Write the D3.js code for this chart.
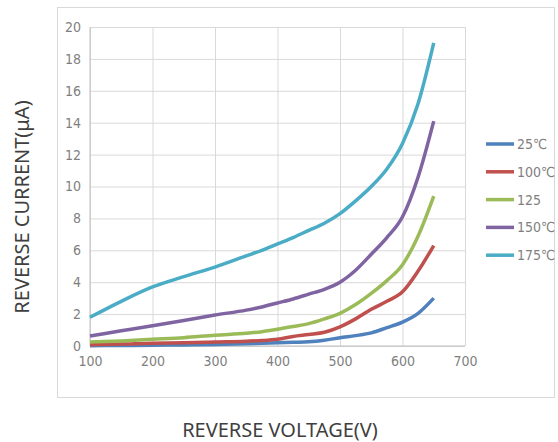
<!DOCTYPE html>
<html lang="en">
<head>
    <meta charset="UTF-8">
    <title>Reverse current</title>
    <script src="https://d3js.org/d3.v7.min.js"></script>
    <style>
        body { margin: 0; background: #fff; }
        .tick text { font-family: "Liberation Sans Narrow", "DejaVu Sans Condensed", sans-serif; font-stretch: condensed; font-size: 14px; fill: #7f7f7f; }
    </style>
</head>
<body>
    <div id="plot"></div>

    <script>
        function translate(x, y){
            return 'translate(' + x + ', ' + y + ')';
        }

        // data
        let voltage = [100, 150, 200, 250, 300, 350, 375, 400, 425, 450, 475, 500, 525, 550, 575, 600, 625, 650];
        let seriesNames = ['25℃', '100℃', '125', '150℃', '175℃'];
        let i25  = [0.02, 0.03, 0.05, 0.07, 0.10, 0.14, 0.17, 0.20, 0.23, 0.26, 0.36, 0.52, 0.65, 0.82, 1.15, 1.50, 2.05, 3.00];
        let i100 = [0.08, 0.12, 0.18, 0.20, 0.25, 0.30, 0.34, 0.42, 0.60, 0.72, 0.86, 1.20, 1.70, 2.30, 2.80, 3.40, 4.70, 6.30];
        let i125 = [0.25, 0.32, 0.42, 0.52, 0.68, 0.80, 0.90, 1.05, 1.22, 1.40, 1.70, 2.05, 2.60, 3.30, 4.10, 5.10, 6.90, 9.40];
        let i150 = [0.63, 0.95, 1.27, 1.60, 1.94, 2.25, 2.45, 2.70, 2.95, 3.25, 3.55, 4.00, 4.75, 5.75, 6.80, 8.10, 10.6, 14.1];
        let i175 = [1.80, 2.80, 3.70, 4.35, 4.95, 5.65, 6.00, 6.40, 6.80, 7.25, 7.70, 8.30, 9.10, 10.0, 11.1, 12.7, 15.2, 19.0];
        let xTicks = [100, 200, 300, 400, 500, 600, 700];
        let yTicks = [0, 2, 4, 6, 8, 10, 12, 14, 16, 18, 20];
        let colors = ['#4f81bd', '#c0504d', '#9bbb59', '#8064a2', '#4bacc6'];

        let series = [i25, i100, i125, i150, i175];

        let svgWidth = 558, svgHeight = 442;
        let margin = {top: 27, left: 90};
        let width = 375, height = 319;

        let svg = d3.select('#plot')
                    .append('svg')
                        .attr('width', svgWidth)
                        .attr('height', svgHeight);

        // outer chart border
        svg.append('rect')
            .attr('x', 57.5).attr('y', 7.5)
            .attr('width', 497).attr('height', 390)
            .attr('fill', 'none')
            .attr('stroke', '#d9d9d9');

        let g = svg.append('g').attr('transform', translate(margin.left, margin.top));

        let x = d3.scaleLinear().domain([100, 700]).range([0, width]);
        let y = d3.scaleLinear().domain([0, 20]).range([height, 0]);

        // grid
        g.append('g')
            .attr('transform', translate(0, height))
            .call(d3.axisBottom(x).tickValues(xTicks).tickSize(-height).tickPadding(10).tickFormat(d3.format('d')))
            .call(a => a.select('.domain').remove())
            .call(a => a.selectAll('line').attr('stroke', '#d9d9d9'))
            .call(a => a.selectAll('text').attr('dy', '0.71em'));

        g.append('g')
            .call(d3.axisLeft(y).tickValues(yTicks).tickSize(-width).tickPadding(9).tickFormat(d3.format('d')))
            .call(a => a.select('.domain').remove())
            .call(a => a.selectAll('line').attr('stroke', '#d9d9d9'));

        // axis lines
        g.append('line').attr('x1', 0).attr('x2', 0).attr('y1', 0).attr('y2', height).attr('stroke', '#bfbfbf');
        g.append('line').attr('x1', 0).attr('x2', width).attr('y1', height).attr('y2', height).attr('stroke', '#bfbfbf');

        let line = d3.line()
                    .x((d, i) => x(voltage[i]))
                    .y(d => y(d))
                    .curve(d3.curveMonotoneX);

        g.selectAll('path.curve')
            .data(series)
            .join('path')
            .attr('class', 'curve')
            .attr('d', line)
            .attr('fill', 'none')
            .attr('stroke', (d, i) => colors[i])
            .attr('stroke-width', 3.5)
            .attr('stroke-linejoin', 'round');

        // legend
        let legend = svg.append('g').attr('transform', translate(486, 144));
        let items = legend.selectAll('g')
            .data(seriesNames)
            .join('g')
            .attr('transform', (d, i) => translate(0, i * 27.8));
        items.append('line')
            .attr('x1', 0).attr('x2', 28)
            .attr('stroke', (d, i) => colors[i])
            .attr('stroke-width', 3.5);
        items.append('text')
            .attr('x', 31).attr('dy', '0.35em')
            .style('font-family', '"Liberation Sans Narrow", "DejaVu Sans Condensed", sans-serif')
            .style('font-stretch', 'condensed')
            .style('font-size', '14px')
            .attr('fill', '#7f7f7f')
            .text(d => d);

        // titles
        svg.append('text')
            .attr('x', 280).attr('y', 437)
            .attr('text-anchor', 'middle')
            .style('font-family', '"Noto Sans", sans-serif')
            .style('font-size', '20px')
            .attr('fill', '#3f3f3f')
            .text('REVERSE VOLTAGE(V)');

        svg.append('text')
            .attr('transform', translate(29, 207) + ' rotate(-90)')
            .attr('text-anchor', 'middle')
            .style('font-family', '"Noto Sans", sans-serif')
            .style('font-size', '20px')
            .attr('fill', '#3f3f3f')
            .text('REVERSE CURRENT(μA)');
    </script>
</body>
</html>
